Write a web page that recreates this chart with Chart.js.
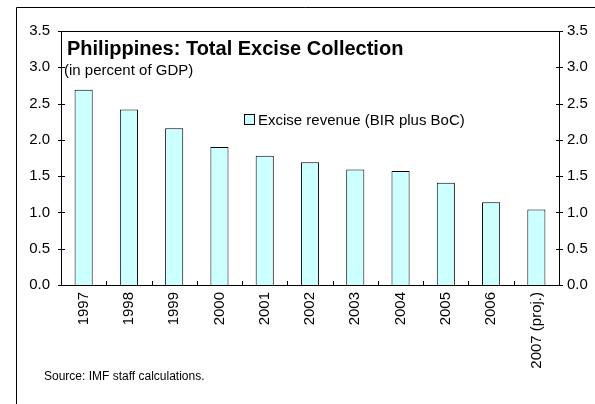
<!DOCTYPE html>
<html>
<head>
<meta charset="utf-8">
<script src="https://cdn.jsdelivr.net/npm/chart.js@4"></script>
<style>
  html, body { margin: 0; padding: 0; background: #fff; }
  #wrap { position: relative; width: 595px; height: 404px; font-family: "Liberation Sans", Arial, sans-serif; color: #000; }
  canvas { position: absolute; left: 0; top: 0; }
  .txt { position: absolute; white-space: nowrap; line-height: 1; }
  #title { left: 67px; top: 38px; font-size: 20px; font-weight: bold; }
  #sub { left: 64px; top: 62px; font-size: 15px; }
  #legend { left: 244px; top: 112px; font-size: 15px; }
  #legend span.box { display: inline-block; width: 9px; height: 9px; border: 1px solid #000; background: #CCFFFF; margin-right: 3px; vertical-align: 0px; }
  #source { left: 44px; top: 370px; font-size: 12px; }
</style>
</head>
<body>
<div id="wrap">
  <canvas id="c" width="595" height="404"></canvas>
  <div class="txt" id="title">Philippines: Total Excise Collection</div>
  <div class="txt" id="sub">(in percent of GDP)</div>
  <div class="txt" id="legend"><span class="box"></span>Excise revenue (BIR plus BoC)</div>
  <div class="txt" id="source">Source: IMF staff calculations.</div>
</div>
<script>
const categories = ["1997", "1998", "1999", "2000", "2001", "2002", "2003", "2004", "2005", "2006", "2007 (proj.)"];
const exciseRevenue = [2.69, 2.42, 2.16, 1.90, 1.78, 1.69, 1.59, 1.57, 1.41, 1.14, 1.04];
const yTicks = [0, 0.5, 1.0, 1.5, 2.0, 2.5, 3.0, 3.5];
const seriesName = "Excise revenue (BIR plus BoC)";

const FONT = "'Liberation Sans', Arial, sans-serif";

const decor = {
  id: 'decor',
  afterDraw(chart) {
    const ctx = chart.ctx;
    const a = chart.chartArea;
    const x = chart.scales.x;
    const y = chart.scales.y;
    ctx.save();
    ctx.strokeStyle = '#000';
    ctx.lineWidth = 1;
    // outer frame (top and left)
    ctx.beginPath();
    ctx.moveTo(16.5, 404);
    ctx.lineTo(16.5, 7.5);
    ctx.lineTo(595, 7.5);
    ctx.stroke();
    // plot top border
    ctx.beginPath();
    ctx.moveTo(Math.round(a.left) + 0.5, Math.round(a.top) + 0.5);
    ctx.lineTo(Math.round(a.right) + 0.5, Math.round(a.top) + 0.5);
    ctx.stroke();
    // x category boundary ticks (inward)
    ctx.beginPath();
    for (let i = 0; i <= categories.length; i++) {
      const px = Math.round(x.getPixelForValue(i - 0.5)) + 0.5;
      ctx.moveTo(px, Math.round(a.bottom));
      ctx.lineTo(px, Math.round(a.bottom) - 4);
    }
    ctx.stroke();
    // y ticks crossing both axes
    ctx.beginPath();
    yTicks.forEach(v => {
      const py = Math.round(y.getPixelForValue(v)) + 0.5;
      ctx.moveTo(Math.round(a.left) - 3, py);
      ctx.lineTo(Math.round(a.left) + 4, py);
      ctx.moveTo(Math.round(a.right) - 3, py);
      ctx.lineTo(Math.round(a.right) + 4, py);
    });
    ctx.stroke();
    ctx.restore();
  }
};

const yCommon = {
  min: 0,
  max: 3.5,
  afterBuildTicks(scale) { scale.ticks = yTicks.map(v => ({ value: v })); },
  grid: { display: false, drawTicks: false, tickLength: 0 },
  border: { display: true, color: '#000', width: 1 },
};

new Chart(document.getElementById('c'), {
  type: 'bar',
  data: {
    labels: categories,
    datasets: [{
      label: seriesName,
      data: exciseRevenue,
      backgroundColor: '#CCFFFF',
      borderColor: '#000',
      borderWidth: 1,
      barPercentage: 0.4,
      categoryPercentage: 1.0
    }]
  },
  options: {
    responsive: false,
    animation: false,
    devicePixelRatio: 1,
    layout: { padding: { top: 31, left: 0, right: 0, bottom: 0 } },
    plugins: { legend: { display: false }, title: { display: false }, tooltip: { enabled: false } },
    scales: {
      x: {
        offset: true,
        grid: { display: false, drawTicks: false, tickLength: 0 },
        border: { display: true, color: '#000', width: 1 },
        ticks: { autoSkip: false, minRotation: 90, maxRotation: 90, padding: 7, color: '#000', font: { family: FONT, size: 15 } },
        afterFit(scale) { scale.height = 119; }
      },
      y: Object.assign({}, yCommon, {
        position: 'left',
        ticks: { padding: 11, color: '#000', font: { family: FONT, size: 15 }, callback: v => Number(v).toFixed(1) },
        afterFit(scale) { scale.width = 61; }
      }),
      y2: Object.assign({}, yCommon, {
        position: 'right',
        ticks: { padding: 8, color: '#000', font: { family: FONT, size: 15 }, callback: v => Number(v).toFixed(1) },
        afterFit(scale) { scale.width = 36; }
      })
    }
  },
  plugins: [decor]
});
</script>
</body>
</html>
